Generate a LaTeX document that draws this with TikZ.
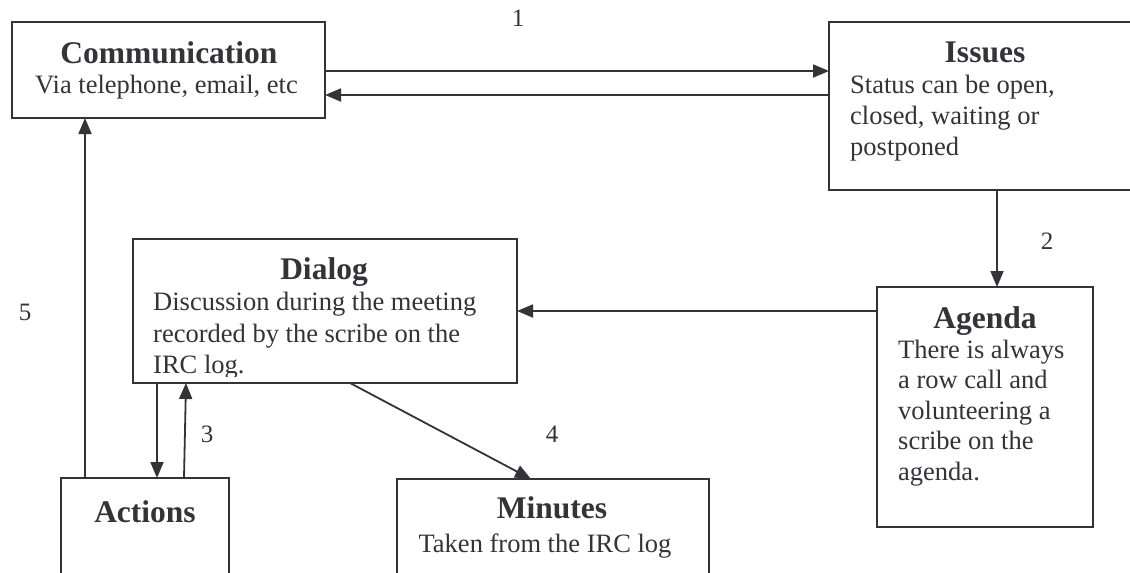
\documentclass[tikz,border=0pt]{standalone}
\usepackage{fontspec}
\setmainfont{Liberation Serif}
\usetikzlibrary{arrows.meta}
\definecolor{ink}{HTML}{333338}
\tikzset{
  box/.style={draw=ink, line width=2pt, inner sep=0pt, outer sep=0pt, anchor=north west, fill=none},
  ttl/.style={text=ink, inner sep=0pt, anchor=base, font=\fontsize{31.5}{36}\selectfont\bfseries},
  txt/.style={text=ink, inner sep=0pt, anchor=base west, font=\fontsize{26.5}{30.5}\selectfont},
  lbl/.style={text=ink, inner sep=0pt, anchor=base, font=\fontsize{25}{30}\selectfont},
  arr/.style={draw=ink, line width=1.8pt, -{Triangle[length=16pt,width=13pt]}},
}
\begin{document}
\begin{tikzpicture}[x=1pt,y=-1pt]
\useasboundingbox (0,0) rectangle (1130,573);
\clip (0,0) rectangle (1130,573);
\fill[white] (0,0) rectangle (1130,573);
% boxes
\node[box, minimum width=313pt, minimum height=96pt] (comm) at (12,22) {};
\node[box, minimum width=400pt, minimum height=168pt] (issues) at (829,22) {};
\node[box, minimum width=384pt, minimum height=144pt] (dialog) at (133,239) {};
\node[box, minimum width=216pt, minimum height=240pt] (agenda) at (877,287) {};
\node[box, minimum width=168pt, minimum height=150pt] (actions) at (61,478) {};
\node[box, minimum width=312pt, minimum height=150pt] (minutes) at (397,479) {};
% texts
\node[ttl] (commT) at (169,63) {Communication};
\node[txt] (commB) at (35,93) {Via telephone, email, etc};
\node[ttl] (issT) at (985,62) {Issues};
\node[txt] (iss1) at (850,93) {Status can be open,};
\node[txt] (iss2) at (850,124) {closed, waiting or};
\node[txt] (iss3) at (850,155) {postponed};
\node[ttl] (dlgT) at (324,279) {Dialog};
\node[txt] (dlg1) at (153,310) {Discussion during the meeting};
\node[txt] (dlg2) at (153,342) {recorded by the scribe on the};
\begin{scope}
\clip (133,239) rectangle (517,376);
\node[txt] (dlg3) at (153,373.5) {IRC log.};
\end{scope}
\node[ttl] (agT) at (985,328) {Agenda};
\node[txt] (ag1) at (898,358) {There is always};
\node[txt] (ag2) at (898,388.5) {a row call and};
\node[txt] (ag3) at (898,419) {volunteering a};
\node[txt] (ag4) at (898,449.5) {scribe on the};
\node[txt] (ag5) at (898,480) {agenda.};
\node[ttl] (actT) at (145,522) {Actions};
\node[ttl] (minT) at (552,518) {Minutes};
\node[txt, anchor=base] (minB) at (545,552) {Taken from the IRC log};
% labels
\node[lbl] (l1) at (518,26) {1};
\node[lbl] (l2) at (1047,249) {2};
\node[lbl] (l3) at (207,442) {3};
\node[lbl] (l4) at (552,442) {4};
\node[lbl] (l5) at (25,320) {5};
% connectors
\draw[arr] (comm.east |- 0,71) -- (issues.west |- 0,71);
\draw[arr] (issues.west |- 0,95) -- (comm.east |- 0,95);
\draw[arr] (issues.south -| 997,0) -- (agenda.north -| 997,0);
\draw[arr] (agenda.west |- 0,311) -- (dialog.east |- 0,311);
\draw[arr] (actions.north -| 85,0) -- (comm.south -| 85,0);
\draw[arr] (dialog.south -| 157,0) -- (actions.north -| 157,0);
\draw[arr] (actions.north -| 184,0) -- (dialog.south -| 186,0);
\draw[arr] (dialog.south -| 350,0) -- (minutes.north -| 531,0);
\end{tikzpicture}
\end{document}
